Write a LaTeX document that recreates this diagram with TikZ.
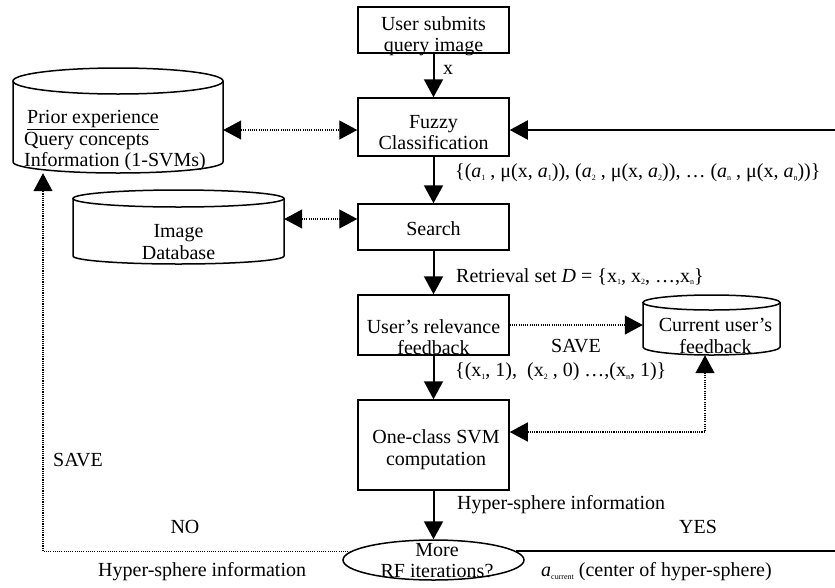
\documentclass[tikz,border=0pt]{standalone}
\usepackage{fontspec}
\setmainfont{Liberation Serif}
\usetikzlibrary{arrows.meta,shapes.geometric}
\newcommand\sbx[1]{\raisebox{-2.5pt}{\fontsize{8}{8}\selectfont #1}}
\begin{document}
\begin{tikzpicture}[x=1pt,y=1pt,
  >={Triangle[length=18pt,width=19pt]},
  txt/.style={inner sep=0pt, font=\fontsize{20}{21.5}\selectfont, align=center},
  box/.style={draw, line width=1.5pt, minimum width=151pt, inner sep=0pt},
  flow/.style={line width=2pt, ->},
  dots/.style={line width=1.2pt, dash pattern=on 1.1pt off 1.1pt},
  cyl/.style={line width=1.5pt},
  ghost/.style={inner sep=0pt}
]
\useasboundingbox (0,0) rectangle (835,-587);

% main flow boxes
\node[box, minimum height=46pt] (user) at (433.5,-30) {};
\node[txt] at (433.5,-36) {User submits\\query image};
\node[box, minimum height=58pt] (fuzzy) at (433.5,-127) {};
\node[txt] at (433.5,-132.5) {Fuzzy\\Classification};
\node[box, minimum height=46pt] (search) at (433.5,-227) {};
\node[txt] at (433.5,-229) {Search};
\node[box, minimum height=60pt] (rel) at (433.5,-325) {};
\node[txt] at (433.5,-337) {User’s relevance\\feedback};
\node[box, minimum height=90pt] (one) at (433.5,-445) {};
\node[txt] at (436,-449.5) {One-class SVM\\computation};
\node[draw, ellipse, line width=1.5pt, minimum width=181pt, minimum height=40pt, inner sep=0pt] (ell) at (433.5,-560) {};
\node[txt] at (437,-560.5) {More\\RF iterations?};

% cylinders
\node[ghost, minimum width=210pt, minimum height=105pt] (prior) at (118,-120.5) {};
\draw[cyl] (118,-81) ellipse [x radius=105, y radius=13];
\draw[cyl] (13,-81) -- (13,-162) arc[start angle=180, end angle=360, x radius=105, y radius=11] -- (223,-81);
\node[txt, align=left, anchor=west] at (24,-141) {\hspace{3pt}\underline{Prior experience}\\Query concepts\\Information (1-SVMs)};

\node[ghost, minimum width=211pt, minimum height=74pt] (imgdb) at (178.5,-227) {};
\draw[cyl] (178.5,-198.5) ellipse [x radius=105.5, y radius=8.5];
\draw[cyl] (73,-198.5) -- (73,-256) arc[start angle=180, end angle=360, x radius=105.5, y radius=8] -- (284,-198.5);
\node[txt] at (178.5,-242) {Image\\Database};

\node[ghost, minimum width=137pt, minimum height=60pt] (cur) at (711.5,-325) {};
\draw[cyl] (711.5,-302.5) ellipse [x radius=68.5, y radius=7.5];
\draw[cyl] (643,-302.5) -- (643,-347) arc[start angle=180, end angle=360, x radius=68.5, y radius=8] -- (780,-302.5);
\node[txt] at (715.5,-336) {Current user’s\\feedback};

% helper coordinates
\coordinate (yf) at (0,-130);
\coordinate (yi) at (0,-219);
\coordinate (cc) at (705,-432);
\coordinate (nc) at (43,0);
\coordinate (rx) at (842,0);

% connectors
\draw[flow] (user) -- (fuzzy);
\draw[flow] (fuzzy) -- (search);
\draw[flow] (search) -- (rel);
\draw[flow] (rel) -- (one);
\draw[flow] (one) -- (ell);
\draw[dots,<->] (prior.east |- yf) -- (fuzzy.west |- yf);
\draw[dots,<->] (imgdb.east |- yi) -- (search.west |- yi);
\draw[dots,->] (rel.east) -- (cur.west |- rel.east);
\draw[dots,<->] (cur.south -| cc) |- (one.east |- cc);
\draw[dots,->] (ell.174) -| (prior.south -| nc);
\draw[flow] (ell.6) -- (ell.6 -| rx) |- (fuzzy.east |- yf);

% labels
\node[txt, anchor=west] at (443,-70) {x};
\node[txt, anchor=west] at (455,-173) {\{(\textit{a}\sbx{1} , μ(x, \textit{a}\sbx{1})), (\textit{a}\sbx{2} , μ(x, \textit{a}\sbx{2})), … (\textit{a}\sbx{n} , μ(x, \textit{a}\sbx{n}))\}};
\node[txt, anchor=west] at (456,-277) {Retrieval set \textit{D} = \{x\sbx{1}, x\sbx{2}, …,x\sbx{n}\}};
\node[txt] at (576,-346) {SAVE};
\node[txt, anchor=west] at (455,-372) {\{(x\sbx{1}, 1),\ \ (x\sbx{2} , 0) …,(x\sbx{n}, 1)\}};
\node[txt, anchor=west] at (457,-505) {Hyper-sphere information};
\node[txt, anchor=west] at (53,-460) {SAVE};
\node[txt] at (185,-527) {NO};
\node[txt] at (698,-527) {YES};
\node[txt, anchor=west] at (98,-572) {Hyper-sphere information};
\node[txt, anchor=west] at (541,-572) {\textit{a}\sbx{current} (center of hyper-sphere)};
\end{tikzpicture}
\end{document}
